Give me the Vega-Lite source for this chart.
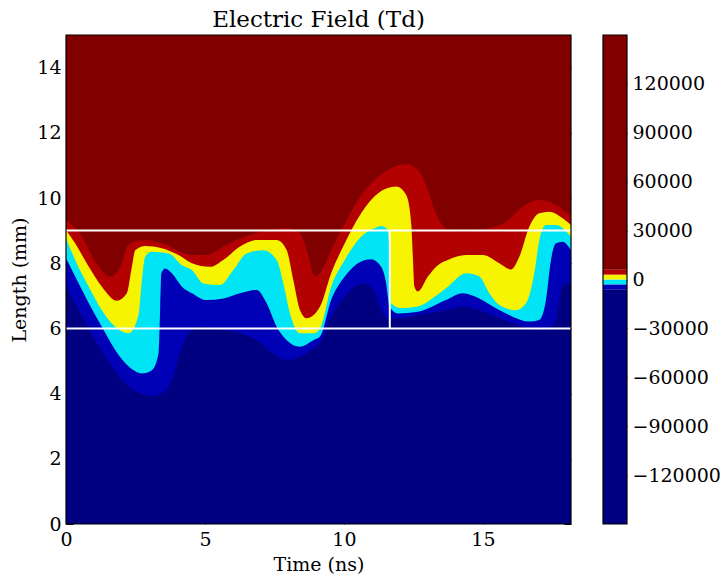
{
  "$schema": "https://vega.github.io/schema/vega-lite/v6.json",
  "background": "white",
  "padding": {"left": 10, "top": 9, "right": 5, "bottom": 4},
  "config": {
    "font": "DejaVu Serif",
    "view": {"stroke": null},
    "axis": {
      "labelFont": "DejaVu Serif", "titleFont": "DejaVu Serif",
      "labelFontSize": 19, "titleFontSize": 19, "titleFontWeight": "normal",
      "labelColor": "black", "titleColor": "black", "tickColor": "black",
      "domain": false, "grid": false, "zindex": 2
    },
    "title": {"font": "DejaVu Serif", "fontSize": 23, "fontWeight": "normal", "color": "black"}
  },
  "datasets": {
    "frame": [{"x0": 0, "x1": 18.17, "y0": 0, "y1": 15}],
    "box": [
      {"x0": 0, "x1": 18.17, "y0": 9, "y1": 9},
      {"x0": 0, "x1": 18.17, "y0": 6, "y1": 6},
      {"x0": 11.65, "x1": 11.65, "y0": 6, "y1": 9}
    ],
    "cbar": [
      {"band": "b0", "lo": -150000, "hi": -6000},
      {"band": "b1", "lo": -6000, "hi": -3000},
      {"band": "b2", "lo": -3000, "hi": 0},
      {"band": "b3", "lo": 0, "hi": 3000},
      {"band": "b4", "lo": 3000, "hi": 6000},
      {"band": "b5", "lo": 6000, "hi": 150000}
    ],
    "cframe": [{"lo": -150000, "hi": 150000}],
    "bounds": [
      {"b":"B1","t":0,"y":9.33},{"b":"B1","t":0.58,"y":8.81},{"b":"B1","t":1.05,"y":8.05},{"b":"B1","t":1.59,"y":7.59},{"b":"B1","t":2.01,"y":8.0},{"b":"B1","t":2.19,"y":8.51},{"b":"B1","t":2.44,"y":8.66},{"b":"B1","t":2.85,"y":8.71},{"b":"B1","t":3.45,"y":8.61},{"b":"B1","t":4.53,"y":8.25},{"b":"B1","t":5.06,"y":8.25},{"b":"B1","t":5.66,"y":8.51},{"b":"B1","t":6.26,"y":8.76},{"b":"B1","t":7.1,"y":8.97},{"b":"B1","t":7.94,"y":9.07},{"b":"B1","t":8.42,"y":8.93},{"b":"B1","t":8.66,"y":8.4},{"b":"B1","t":8.96,"y":7.59},{"b":"B1","t":9.14,"y":7.69},{"b":"B1","t":9.54,"y":8.4},{"b":"B1","t":10.03,"y":9.22},{"b":"B1","t":10.5,"y":9.94},{"b":"B1","t":11.1,"y":10.55},{"b":"B1","t":11.82,"y":10.96},{"b":"B1","t":12.24,"y":11.04},{"b":"B1","t":12.66,"y":10.86},{"b":"B1","t":13.02,"y":10.25},{"b":"B1","t":13.26,"y":9.63},{"b":"B1","t":13.5,"y":9.22},{"b":"B1","t":13.74,"y":9.02},{"b":"B1","t":14.39,"y":8.97},{"b":"B1","t":15.23,"y":9.07},{"b":"B1","t":15.83,"y":9.27},{"b":"B1","t":16.43,"y":9.73},{"b":"B1","t":17.03,"y":9.94},{"b":"B1","t":17.63,"y":9.79},{"b":"B1","t":18.17,"y":9.43},
      {"b":"B2","t":0,"y":9.02},{"b":"B2","t":0.33,"y":8.61},{"b":"B2","t":0.82,"y":7.89},{"b":"B2","t":1.29,"y":7.28},{"b":"B2","t":1.83,"y":6.85},{"b":"B2","t":2.19,"y":7.08},{"b":"B2","t":2.37,"y":7.89},{"b":"B2","t":2.49,"y":8.4},{"b":"B2","t":2.85,"y":8.53},{"b":"B2","t":3.45,"y":8.46},{"b":"B2","t":4.05,"y":8.25},{"b":"B2","t":4.53,"y":8.0},{"b":"B2","t":5.18,"y":7.89},{"b":"B2","t":5.66,"y":8.1},{"b":"B2","t":6.26,"y":8.51},{"b":"B2","t":6.86,"y":8.71},{"b":"B2","t":7.58,"y":8.71},{"b":"B2","t":7.94,"y":8.4},{"b":"B2","t":8.18,"y":7.48},{"b":"B2","t":8.42,"y":6.56},{"b":"B2","t":8.66,"y":6.31},{"b":"B2","t":9.14,"y":6.67},{"b":"B2","t":9.54,"y":7.69},{"b":"B2","t":10.03,"y":8.61},{"b":"B2","t":10.62,"y":9.53},{"b":"B2","t":11.22,"y":10.14},{"b":"B2","t":11.88,"y":10.35},{"b":"B2","t":12.24,"y":10.09},{"b":"B2","t":12.42,"y":9.22},{"b":"B2","t":12.48,"y":8.2},{"b":"B2","t":12.54,"y":7.28},{"b":"B2","t":12.66,"y":7.13},{"b":"B2","t":13.02,"y":7.59},{"b":"B2","t":13.38,"y":7.94},{"b":"B2","t":13.74,"y":8.1},{"b":"B2","t":14.39,"y":8.25},{"b":"B2","t":14.99,"y":8.25},{"b":"B2","t":15.59,"y":8.0},{"b":"B2","t":16.01,"y":7.81},{"b":"B2","t":16.31,"y":8.2},{"b":"B2","t":16.67,"y":9.12},{"b":"B2","t":17.03,"y":9.53},{"b":"B2","t":17.38,"y":9.58},{"b":"B2","t":17.87,"y":9.38},{"b":"B2","t":18.17,"y":9.17},
      {"b":"B3","t":0,"y":8.76},{"b":"B3","t":0.33,"y":8.1},{"b":"B3","t":0.82,"y":7.28},{"b":"B3","t":1.29,"y":6.56},{"b":"B3","t":1.77,"y":6.05},{"b":"B3","t":2.26,"y":5.85},{"b":"B3","t":2.62,"y":6.46},{"b":"B3","t":2.73,"y":7.48},{"b":"B3","t":2.85,"y":8.2},{"b":"B3","t":3.09,"y":8.35},{"b":"B3","t":3.69,"y":8.3},{"b":"B3","t":4.17,"y":7.94},{"b":"B3","t":4.53,"y":7.79},{"b":"B3","t":4.94,"y":7.38},{"b":"B3","t":5.54,"y":7.33},{"b":"B3","t":6.02,"y":7.79},{"b":"B3","t":6.5,"y":8.3},{"b":"B3","t":7.1,"y":8.4},{"b":"B3","t":7.58,"y":8.1},{"b":"B3","t":7.82,"y":7.38},{"b":"B3","t":8.06,"y":6.46},{"b":"B3","t":8.42,"y":5.85},{"b":"B3","t":8.9,"y":5.85},{"b":"B3","t":9.14,"y":6.0},{"b":"B3","t":9.54,"y":7.28},{"b":"B3","t":10.03,"y":8.1},{"b":"B3","t":10.62,"y":8.81},{"b":"B3","t":11.1,"y":9.07},{"b":"B3","t":11.34,"y":9.14},{"b":"B3","t":11.58,"y":9.02},{"b":"B3","t":11.64,"y":8.2},{"b":"B3","t":11.7,"y":6.77},{"b":"B3","t":12.06,"y":6.62},{"b":"B3","t":12.66,"y":6.67},{"b":"B3","t":13.26,"y":6.97},{"b":"B3","t":13.74,"y":7.28},{"b":"B3","t":14.39,"y":7.69},{"b":"B3","t":14.87,"y":7.59},{"b":"B3","t":15.23,"y":7.08},{"b":"B3","t":15.59,"y":6.72},{"b":"B3","t":16.19,"y":6.56},{"b":"B3","t":16.55,"y":6.77},{"b":"B3","t":16.85,"y":7.69},{"b":"B3","t":17.03,"y":8.71},{"b":"B3","t":17.27,"y":9.17},{"b":"B3","t":17.63,"y":9.17},{"b":"B3","t":18.17,"y":8.81},
      {"b":"B4","t":0,"y":8.16},{"b":"B4","t":0.33,"y":7.59},{"b":"B4","t":0.82,"y":6.77},{"b":"B4","t":1.29,"y":6.05},{"b":"B4","t":1.77,"y":5.34},{"b":"B4","t":2.26,"y":4.83},{"b":"B4","t":2.73,"y":4.62},{"b":"B4","t":3.09,"y":4.72},{"b":"B4","t":3.33,"y":5.24},{"b":"B4","t":3.39,"y":6.67},{"b":"B4","t":3.43,"y":7.69},{"b":"B4","t":3.57,"y":7.84},{"b":"B4","t":3.81,"y":7.69},{"b":"B4","t":4.17,"y":7.28},{"b":"B4","t":4.53,"y":7.08},{"b":"B4","t":5.06,"y":6.87},{"b":"B4","t":5.66,"y":6.92},{"b":"B4","t":6.26,"y":7.08},{"b":"B4","t":6.86,"y":7.18},{"b":"B4","t":7.22,"y":6.77},{"b":"B4","t":7.58,"y":6.05},{"b":"B4","t":7.94,"y":5.64},{"b":"B4","t":8.42,"y":5.44},{"b":"B4","t":8.9,"y":5.64},{"b":"B4","t":9.14,"y":5.75},{"b":"B4","t":9.54,"y":6.87},{"b":"B4","t":10.03,"y":7.59},{"b":"B4","t":10.62,"y":8.05},{"b":"B4","t":10.98,"y":8.12},{"b":"B4","t":11.34,"y":7.89},{"b":"B4","t":11.52,"y":7.38},{"b":"B4","t":11.64,"y":6.67},{"b":"B4","t":11.94,"y":6.46},{"b":"B4","t":12.66,"y":6.51},{"b":"B4","t":13.67,"y":6.87},{"b":"B4","t":14.27,"y":7.08},{"b":"B4","t":14.87,"y":6.92},{"b":"B4","t":15.47,"y":6.62},{"b":"B4","t":16.07,"y":6.36},{"b":"B4","t":16.67,"y":6.21},{"b":"B4","t":17.03,"y":6.26},{"b":"B4","t":17.27,"y":6.87},{"b":"B4","t":17.45,"y":8.1},{"b":"B4","t":17.63,"y":8.61},{"b":"B4","t":17.87,"y":8.66},{"b":"B4","t":18.17,"y":8.4},
      {"b":"B5","t":0,"y":7.28},{"b":"B5","t":0.46,"y":6.56},{"b":"B5","t":1.05,"y":5.64},{"b":"B5","t":1.65,"y":4.83},{"b":"B5","t":2.26,"y":4.21},{"b":"B5","t":3.09,"y":3.93},{"b":"B5","t":3.45,"y":4.01},{"b":"B5","t":3.81,"y":4.42},{"b":"B5","t":4.17,"y":5.44},{"b":"B5","t":4.41,"y":5.85},{"b":"B5","t":4.82,"y":6.05},{"b":"B5","t":5.42,"y":6.0},{"b":"B5","t":6.26,"y":5.85},{"b":"B5","t":6.86,"y":5.64},{"b":"B5","t":7.46,"y":5.24},{"b":"B5","t":7.94,"y":5.03},{"b":"B5","t":8.42,"y":5.13},{"b":"B5","t":8.9,"y":5.39},{"b":"B5","t":9.14,"y":5.54},{"b":"B5","t":9.54,"y":6.36},{"b":"B5","t":10.03,"y":6.97},{"b":"B5","t":10.5,"y":7.33},{"b":"B5","t":10.8,"y":7.36},{"b":"B5","t":11.1,"y":7.13},{"b":"B5","t":11.34,"y":6.56},{"b":"B5","t":11.58,"y":6.31},{"b":"B5","t":12.06,"y":6.31},{"b":"B5","t":12.66,"y":6.41},{"b":"B5","t":13.67,"y":6.56},{"b":"B5","t":14.27,"y":6.67},{"b":"B5","t":14.87,"y":6.56},{"b":"B5","t":15.47,"y":6.36},{"b":"B5","t":16.07,"y":6.16},{"b":"B5","t":16.67,"y":6.0},{"b":"B5","t":17.27,"y":5.95},{"b":"B5","t":17.63,"y":6.26},{"b":"B5","t":17.81,"y":7.18},{"b":"B5","t":17.99,"y":7.4},{"b":"B5","t":18.17,"y":7.38}
    ]
  },
  "spacing": 32,
  "bounds": "flush",
  "hconcat": [
    {
      "width": 505,
      "height": 489,
      "title": {"text": "Electric Field (Td)", "offset": 2},
      "layer": [
        {
          "data": {"name": "frame"},
          "mark": {"type": "rect", "fill": "#800000"},
          "encoding": {
            "x": {"field": "x0", "type": "quantitative", "scale": {"domain": [0, 18.17], "nice": false, "zero": false},
                  "axis": {"orient": "bottom", "values": [0, 5, 10, 15], "tickSize": -7, "labelPadding": 13, "title": "Time (ns)", "titlePadding": 6, "labelFlush": false}},
            "x2": {"field": "x1"},
            "y": {"field": "y0", "type": "quantitative", "scale": {"domain": [0, 15], "nice": false, "zero": false},
                  "axis": {"orient": "left", "values": [0, 2, 4, 6, 8, 10, 12, 14], "tickSize": -7, "labelPadding": 12, "title": "Length (mm)", "titlePadding": 7, "labelFlush": false}},
            "y2": {"field": "y1"}
          }
        },
        {
          "data": {"name": "bounds"},
          "transform": [{"filter": "datum.b === 'B1'"}],
          "mark": {"type": "area", "interpolate": "monotone", "color": "#b30000"},
          "encoding": {
            "x": {"field": "t", "type": "quantitative", "axis": null},
            "y": {"field": "y", "type": "quantitative", "axis": null, "stack": null}
          }
        },
        {
          "data": {"name": "bounds"},
          "transform": [{"filter": "datum.b === 'B2'"}],
          "mark": {"type": "area", "interpolate": "monotone", "color": "#f6f400"},
          "encoding": {
            "x": {"field": "t", "type": "quantitative", "axis": null},
            "y": {"field": "y", "type": "quantitative", "axis": null, "stack": null}
          }
        },
        {
          "data": {"name": "bounds"},
          "transform": [{"filter": "datum.b === 'B3'"}],
          "mark": {"type": "area", "interpolate": "monotone", "color": "#00e4f6"},
          "encoding": {
            "x": {"field": "t", "type": "quantitative", "axis": null},
            "y": {"field": "y", "type": "quantitative", "axis": null, "stack": null}
          }
        },
        {
          "data": {"name": "bounds"},
          "transform": [{"filter": "datum.b === 'B4'"}],
          "mark": {"type": "area", "interpolate": "monotone", "color": "#0000b6"},
          "encoding": {
            "x": {"field": "t", "type": "quantitative", "axis": null},
            "y": {"field": "y", "type": "quantitative", "axis": null, "stack": null}
          }
        },
        {
          "data": {"name": "bounds"},
          "transform": [{"filter": "datum.b === 'B5'"}],
          "mark": {"type": "area", "interpolate": "monotone", "color": "#000080"},
          "encoding": {
            "x": {"field": "t", "type": "quantitative", "axis": null},
            "y": {"field": "y", "type": "quantitative", "axis": null, "stack": null}
          }
        },
        {
          "data": {"name": "box"},
          "mark": {"type": "rule", "color": "white", "strokeWidth": 2},
          "encoding": {
            "x": {"field": "x0", "type": "quantitative", "axis": null},
            "x2": {"field": "x1"},
            "y": {"field": "y0", "type": "quantitative", "axis": null},
            "y2": {"field": "y1"}
          }
        },
        {
          "data": {"name": "frame"},
          "mark": {"type": "rect", "fillOpacity": 0, "stroke": "black", "strokeWidth": 1.2},
          "encoding": {
            "x": {"field": "x0", "type": "quantitative", "axis": {"orient": "top", "values": [0, 5, 10, 15], "tickSize": -7, "labels": false, "title": null}},
            "x2": {"field": "x1"},
            "y": {"field": "y0", "type": "quantitative", "axis": {"orient": "right", "values": [0, 2, 4, 6, 8, 10, 12, 14], "tickSize": -7, "labels": false, "title": null}},
            "y2": {"field": "y1"}
          }
        }
      ],
      "resolve": {"axis": {"x": "independent", "y": "independent"}}
    },
    {
      "width": 24,
      "height": 489,
      "layer": [
        {
          "data": {"name": "cbar"},
          "mark": {"type": "rect"},
          "encoding": {
            "y": {"field": "lo", "type": "quantitative", "scale": {"domain": [-150000, 150000], "nice": false, "zero": false},
                  "axis": {"orient": "right", "values": [-120000, -90000, -60000, -30000, 0, 30000, 60000, 90000, 120000], "format": "d", "labelExpr": "replace(datum.label, '-', '\u2212')", "tickSize": -5, "labelPadding": 10, "title": null}},
            "y2": {"field": "hi"},
            "color": {"field": "band", "type": "nominal", "legend": null,
                      "scale": {"domain": ["b0", "b1", "b2", "b3", "b4", "b5"], "range": ["#000080", "#0000b6", "#00e4f6", "#f6f400", "#b30000", "#800000"]}}
          }
        },
        {
          "data": {"name": "cframe"},
          "mark": {"type": "rect", "fillOpacity": 0, "stroke": "black", "strokeWidth": 1.2},
          "encoding": {
            "y": {"field": "lo", "type": "quantitative"},
            "y2": {"field": "hi"}
          }
        }
      ]
    }
  ]
}
